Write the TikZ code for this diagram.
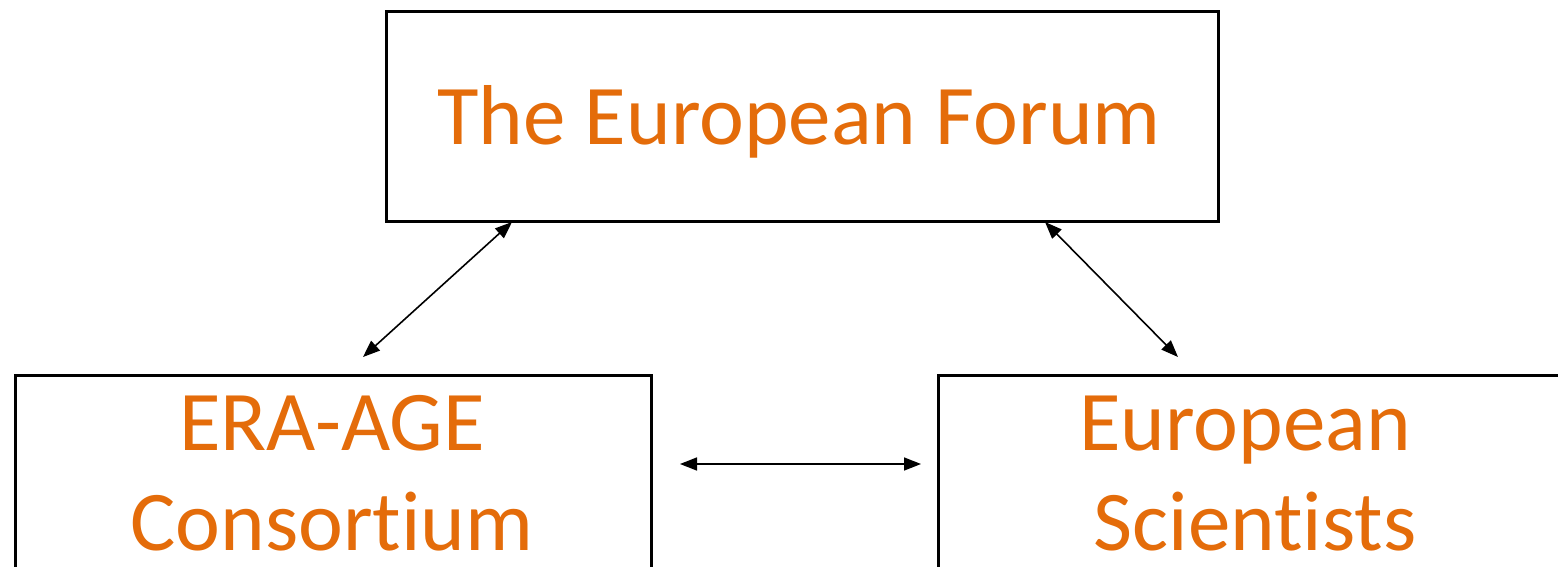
\documentclass[tikz,border=0pt]{standalone}
\usepackage{fontspec}
\setmainfont{Carlito}[Ligatures=NoCommon]
\usetikzlibrary{arrows.meta}
\definecolor{txtorange}{HTML}{E46C0A}
\tikzset{
  box/.style={draw=black, line width=3pt, fill=white, inner sep=0pt, anchor=north west},
  lbl/.style={text=txtorange, font=\fontsize{85}{100}\selectfont, inner sep=0pt, anchor=base},
  link/.style={line width=1.6pt, {Triangle[length=17pt,width=13pt]}-{Triangle[length=17pt,width=13pt]}}
}
\begin{document}
\begin{tikzpicture}[x=1pt,y=-1pt]
\useasboundingbox (0,0) rectangle (1558,567);
\clip (0,0) rectangle (1558,567);
\node[box, minimum width=832pt, minimum height=210pt] (forum) at (385,10) {};
\node[box, minimum width=636pt, minimum height=300pt] (eraage) at (14,374) {};
\node[box, minimum width=636pt, minimum height=300pt] (scient) at (937,374) {};
\node[lbl] (forumtxt) at (799,145) {The European Forum};
\node[lbl] (eraA) at (332,450) {ERA-AGE};
\node[lbl] (eraB) at (332,550) {Consortium};
\node[lbl] (sciA) at (1245,450) {European};
\node[lbl] (sciB) at (1255,550) {Scientists};
\coordinate (l1) at (512,222);
\coordinate (l2) at (363,357);
\coordinate (r1) at (1045,222);
\coordinate (r2) at (1178,357);
\coordinate (h1) at (680,464);
\coordinate (h2) at (921,464);
\draw[link] (l1) -- (l2);
\draw[link] (r1) -- (r2);
\draw[link] (h1) -- (h2);
\end{tikzpicture}
\end{document}
